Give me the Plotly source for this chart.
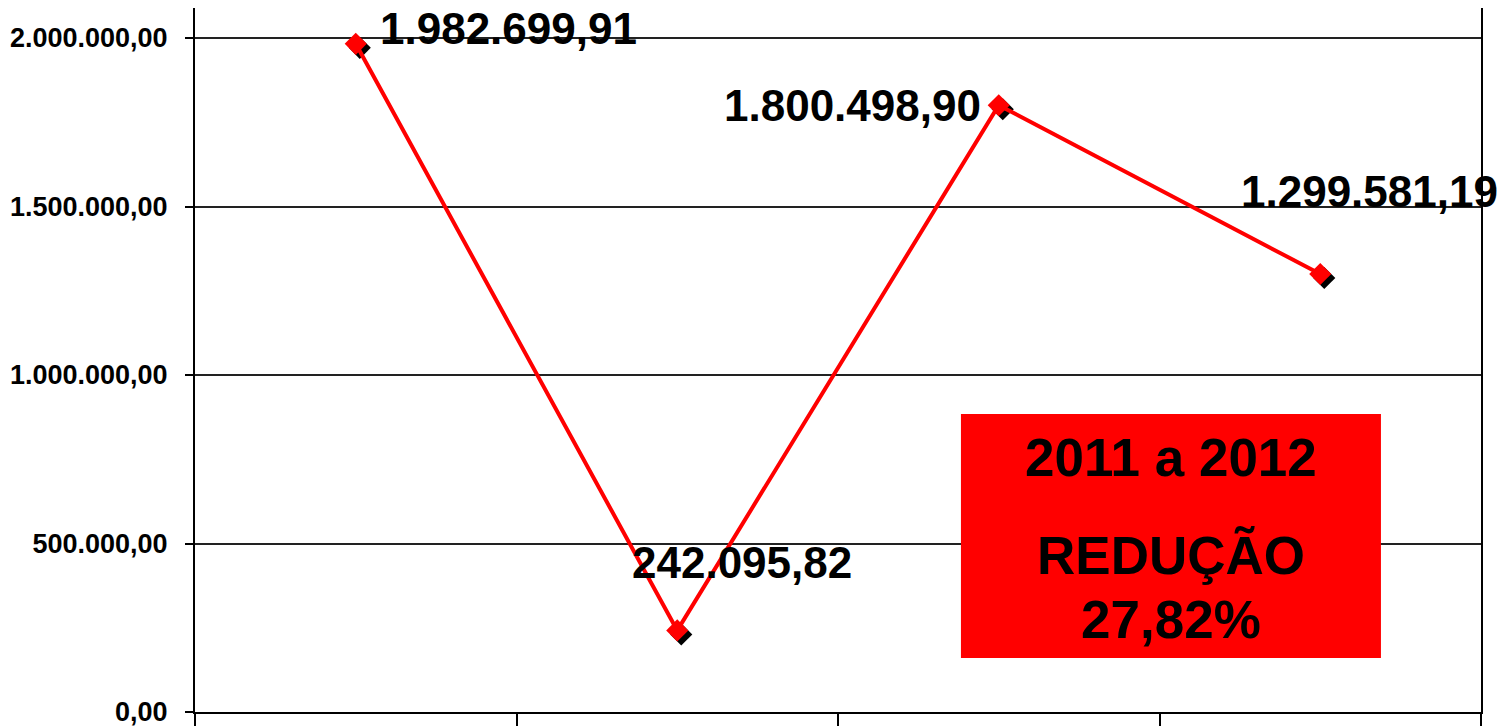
import plotly.graph_objects as go

# ---- data ----
categories = ["2009", "2010", "2011", "2012"]
values = [1982699.91, 242095.82, 1800498.90, 1299581.19]
y_ticks = [0, 500000, 1000000, 1500000, 2000000]
box_title = "2011 a 2012"
box_line1 = "REDUÇÃO"
box_line2 = "27,82%"

# label placement (pixels relative to each point)
label_anchor = ["left", "center", "right", "left"]
label_xshift = [22, 65, -16, -81]
label_yshift = [15, 68, 0, 83]


def fmt_br(v):
    s = f"{v:,.2f}"
    return s.replace(",", "X").replace(".", ",").replace("X", ".")


FONT = "Liberation Sans, Arial, sans-serif"
PLOT_H = 704
Y_MAX = PLOT_H / 337 * 1_000_000
px_per_unit_y = PLOT_H / Y_MAX
px_per_cat = 1286 / 4
shadow_dx, shadow_dy = 4, 4

fig = go.Figure()

# shadow markers (main axes, shifted a few pixels)
fig.add_trace(go.Scatter(
    x=categories, y=values, mode="markers", xaxis="x", yaxis="y",
    marker=dict(symbol="diamond", size=17, color="black"),
    hoverinfo="skip", showlegend=False,
))

# real series
fig.add_trace(go.Scatter(
    x=categories, y=values, mode="lines+markers", xaxis="x2", yaxis="y2",
    line=dict(color="#ff0000", width=4),
    marker=dict(symbol="diamond", size=17, color="#ff0000"),
    showlegend=False,
))

annotations = []
for i, (v, a, dx, dy) in enumerate(zip(values, label_anchor, label_xshift, label_yshift)):
    annotations.append(dict(
        x=i, y=v, xref="x2", yref="y2", text=fmt_br(v), showarrow=False,
        xanchor=a, yanchor="middle", xshift=dx, yshift=dy,
        font=dict(family=FONT, size=44, color="black", weight="bold"),
    ))

# text box
box_font = dict(family=FONT, size=53, color="black", weight="bold")
annotations += [
    dict(x=0.759, y=0.3608, xref="paper", yref="paper", text=box_title, showarrow=False,
         xanchor="center", yanchor="middle", font=box_font),
    dict(x=0.759, y=0.2216, xref="paper", yref="paper", text=box_line1, showarrow=False,
         xanchor="center", yanchor="middle", font=box_font),
    dict(x=0.759, y=0.1307, xref="paper", yref="paper", text=box_line2, showarrow=False,
         xanchor="center", yanchor="middle", font=box_font),
]

shapes = [dict(type="rect", xref="paper", yref="paper",
               x0=0.5956, x1=0.9222, y0=0.0767, y1=0.4233,
               fillcolor="#ff0000", line=dict(width=0), layer="above")]

fig.update_layout(
    width=1503, height=718,
    margin=dict(l=187, r=30, t=0, b=14),
    paper_bgcolor="white", plot_bgcolor="white",
    separators=",.",
    showlegend=False,
    xaxis=dict(
        type="category", range=[-0.5 - shadow_dx / px_per_cat, 3.5 - shadow_dx / px_per_cat],
        visible=False, fixedrange=True,
    ),
    yaxis=dict(
        range=[shadow_dy / px_per_unit_y, Y_MAX + shadow_dy / px_per_unit_y],
        visible=False, fixedrange=True,
    ),
    xaxis2=dict(
        type="category", overlaying="x", anchor="y2", range=[-0.5, 3.5],
        showgrid=False, showticklabels=False, tickson="boundaries",
        ticks="outside", ticklen=14, tickwidth=2, tickcolor="black",
        showline=True, linecolor="black", linewidth=2,
    ),
    yaxis2=dict(
        overlaying="y", anchor="x2", side="left", range=[0, Y_MAX],
        tickvals=y_ticks, tickformat=",.2f", ticklabeloverflow="allow",
        ticklabelstandoff=12,
        ticks="outside", ticklen=8, tickwidth=1.5, tickcolor="black",
        showgrid=True, gridcolor="#222222", gridwidth=1.5,
        zeroline=False,
        showline=True, linecolor="black", linewidth=2, mirror=True,
        tickfont=dict(family=FONT, size=27, color="black", weight="bold"),
    ),
    annotations=annotations,
    shapes=shapes,
)

fig.write_html("out.html")
